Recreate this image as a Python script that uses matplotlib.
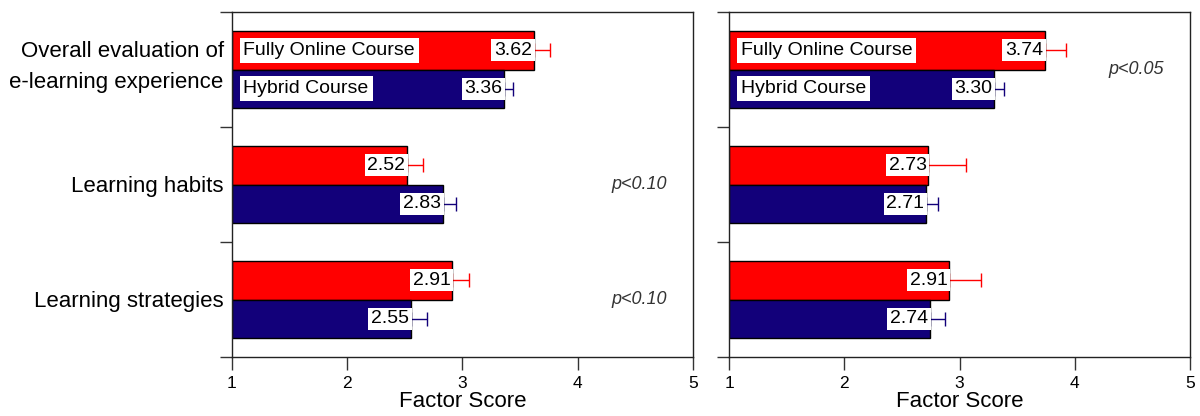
import matplotlib
matplotlib.use("Agg")
import matplotlib.pyplot as plt
import numpy as np

plt.rcParams["font.family"] = ["Liberation Sans", "DejaVu Sans"]

factors = ["Overall evaluation of\ne-learning experience", "Learning habits", "Learning strategies"]
series = ["Fully Online Course", "Hybrid Course"]

left_online = [3.62, 2.52, 2.91]
left_online_err = [0.14, 0.14, 0.15]
left_hybrid = [3.36, 2.83, 2.55]
left_hybrid_err = [0.08, 0.11, 0.14]
left_pvals = ["", "p<0.10", "p<0.10"]

right_online = [3.74, 2.73, 2.91]
right_online_err = [0.18, 0.33, 0.28]
right_hybrid = [3.30, 2.71, 2.74]
right_hybrid_err = [0.09, 0.10, 0.13]
right_pvals = ["p<0.05", "", ""]

xticks = [1, 2, 3, 4, 5]

RED = "#ff0000"
NAVY = "#12007a"


def draw_panel(ax, online, online_err, hybrid, hybrid_err, pvals, show_labels):
    n = len(online)
    centers = np.arange(n) + 0.5
    h = 0.335
    y_on = centers - h / 2
    y_hy = centers + h / 2

    for ys, vals, errs, col in [(y_on, online, online_err, RED), (y_hy, hybrid, hybrid_err, NAVY)]:
        vals = np.array(vals)
        ax.barh(ys, vals - 1, left=1, height=h, color=col, edgecolor="black", linewidth=1, zorder=2)
        ax.errorbar(vals, ys, xerr=[np.zeros(n), errs], fmt="none", ecolor=col,
                    elinewidth=1, capsize=5, capthick=1, zorder=1)
        for y, v in zip(ys, vals):
            ax.text(v - 0.015, y, f"{v:.2f}", ha="right", va="center", fontsize=14, zorder=3,
                    bbox=dict(boxstyle="square,pad=0.14", fc="white", ec="none"))

    # series labels inside the first pair of bars
    for y, name in [(y_on[0], series[0]), (y_hy[0], series[1])]:
        ax.text(1.1, y, name, ha="left", va="center", fontsize=14, zorder=3,
                bbox=dict(boxstyle="square,pad=0.2", fc="white", ec="none"))

    for c, p in zip(centers, pvals):
        if p:
            ax.text(4.53, c, p, ha="center", va="center", fontsize=13, style="italic", color="#333333")

    ax.set_xlim(1, 5)
    ax.set_ylim(n, 0)
    ax.set_xticks(xticks)
    ax.set_xticklabels([str(t) for t in xticks], fontsize=12.5)
    ax.set_yticks(np.arange(n + 1))
    ax.set_yticklabels([])
    if show_labels:
        # group names, the first one sits a little above the group centre
        for i, (c, name) in enumerate(zip(centers, factors)):
            ax.annotate(name, xy=(0, c + (-0.02 if i == 0 else 0.02)),
                        xycoords=("axes fraction", "data"), xytext=(-6, 0),
                        textcoords="offset points", ha="right", va="center",
                        fontsize=16, linespacing=1.6)
    ax.tick_params(axis="both", which="major", length=9, width=1, direction="out", color="#333333")
    ax.tick_params(axis="x", pad=5)
    ax.set_xlabel("Factor Score", fontsize=16, labelpad=0)
    for s in ax.spines.values():
        s.set_linewidth(1)
        s.set_color("#222222")


fig = plt.figure(figsize=(12, 4.16), dpi=100)
ax1 = fig.add_axes([0.1933, 0.1418, 0.3842, 0.8293])
ax2 = fig.add_axes([0.6075, 0.1418, 0.3842, 0.8293])

draw_panel(ax1, left_online, left_online_err, left_hybrid, left_hybrid_err, left_pvals, True)
draw_panel(ax2, right_online, right_online_err, right_hybrid, right_hybrid_err, right_pvals, False)

fig.savefig("out.png", dpi=100)
plt.close(fig)
